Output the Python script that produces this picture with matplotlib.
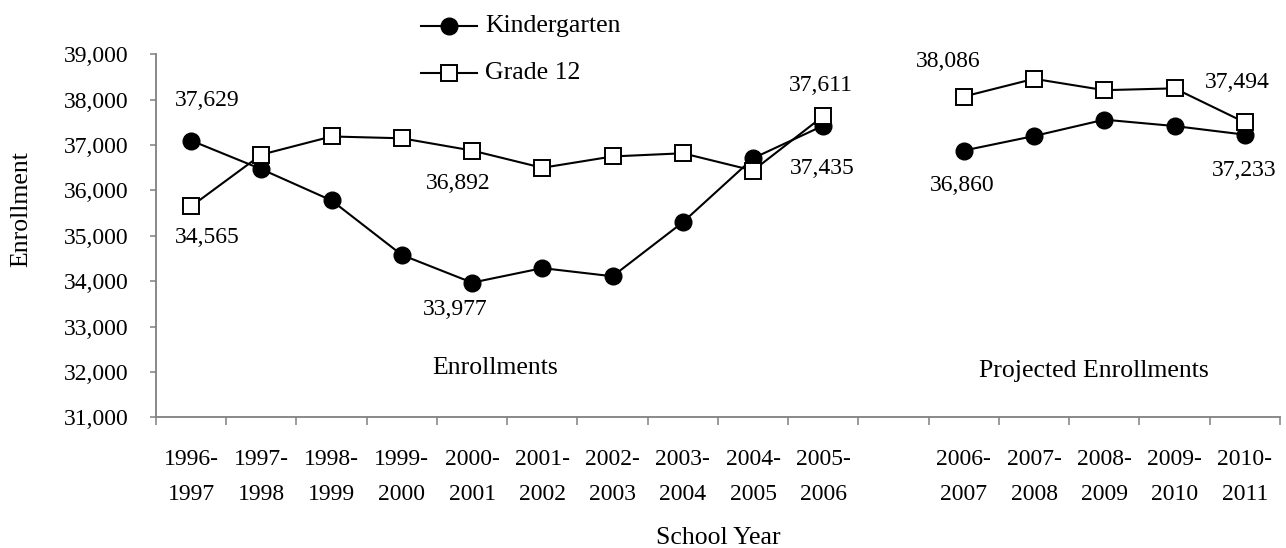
import numpy as np
import matplotlib
matplotlib.use("Agg")
import matplotlib.pyplot as plt
from matplotlib.lines import Line2D
from matplotlib.ticker import FuncFormatter

plt.rcParams["font.family"] = ["Liberation Serif", "DejaVu Serif"]

years = ["1996-\n1997", "1997-\n1998", "1998-\n1999", "1999-\n2000", "2000-\n2001",
         "2001-\n2002", "2002-\n2003", "2003-\n2004", "2004-\n2005", "2005-\n2006",
         "", "2006-\n2007", "2007-\n2008", "2008-\n2009", "2009-\n2010", "2010-\n2011"]

kindergarten = [37100, 36470, 35780, 34580, 33970, 34290, 34110, 35300, 36710, 37430,
                np.nan, 36880, 37200, 37560, 37420, 37230]
grade12 = [35650, 36790, 37190, 37150, 36880, 36500, 36750, 36820, 36440, 37640,
           np.nan, 38070, 38460, 38210, 38250, 37500]

# data labels as printed on the chart: slot, series, text
point_labels = [
    (0, "k", "37,629"),
    (0, "g", "34,565"),
    (4, "g", "36,892"),
    (4, "k", "33,977"),
    (9, "g", "37,611"),
    (9, "k", "37,435"),
    (11, "g", "38,086"),
    (11, "k", "36,860"),
    (15, "g", "37,494"),
    (15, "k", "37,233"),
]
# label offsets from their point, in pixels
label_offset = {"37,629": (16, 40), "34,565": (16, -31), "36,892": (-14, -33),
                "33,977": (-17, -27), "37,611": (-2, 31), "37,435": (-1, -43),
                "38,086": (-16, 35), "36,860": (-2, -35), "37,494": (-8, 40),
                "37,233": (-1, -36)}

NUM_FS = 17
WORD_FS = 18.5
GRAY = "#808080"

fig = plt.figure(figsize=(12.86, 5.48), dpi=100)
ax = fig.add_axes([0.1213, 0.2382, 0.874, 0.6627])

x = np.arange(len(years)) + 0.5
k_style = dict(color="black", lw=1.5, marker="o", ms=12, mfc="black", mec="black")
g_style = dict(color="black", lw=1.5, marker="s", ms=11.5, mfc="white", mec="black", mew=1.4)
ax.plot(x, kindergarten, zorder=3, **k_style)
ax.plot(x, grade12, zorder=4, **g_style)

series = {"k": kindergarten, "g": grade12}
for slot, s, text in point_labels:
    ax.annotate(text, (x[slot], series[s][slot]), xytext=label_offset[text],
                textcoords="offset pixels", ha="center", va="center", fontsize=NUM_FS)

ax.text(4.83, 32080, "Enrollments", ha="center", va="center", fontsize=WORD_FS)
ax.text(13.35, 32020, "Projected Enrollments", ha="center", va="center", fontsize=WORD_FS)

ax.set_xlim(0, 16)
ax.set_ylim(31000, 39000)
ax.set_yticks(np.arange(31000, 39001, 1000))
ax.yaxis.set_major_formatter(FuncFormatter(lambda v, p: f"{int(v):,}"))

ax.set_xticks(np.arange(0, 17))
ax.set_xticklabels([])
ax.set_xticks(x, minor=True)
ax.set_xticklabels(years, minor=True)
for t in ax.get_xticklabels(minor=True):
    t.set_linespacing(1.85)
ax.tick_params(axis="x", which="major", length=6, width=1.1, color=GRAY, direction="out")
ax.tick_params(axis="x", which="minor", length=0, pad=23, labelsize=NUM_FS)
ax.tick_params(axis="y", length=4.5, width=1.1, color=GRAY, labelsize=NUM_FS, pad=15)

for s in ["top", "right"]:
    ax.spines[s].set_visible(False)
for s in ["left", "bottom"]:
    ax.spines[s].set_color(GRAY)
    ax.spines[s].set_linewidth(1.3)

fig.text(21.7 / 1286, 1 - 209 / 548, "Enrollment", rotation=90, ha="center", va="center",
         fontsize=WORD_FS)
fig.text(718 / 1286, 1 - 538 / 548, "School Year", ha="center", va="center", fontsize=WORD_FS)

# legend drawn by hand above the plot
W, H = 1286, 548
for (ypix, style, name) in [(26, k_style, "Kindergarten"), (73, g_style, "Grade 12")]:
    yf = 1 - ypix / H
    line_style = {k: v for k, v in style.items() if k in ("color", "lw")}
    fig.add_artist(Line2D([421 / W, 477 / W], [yf, yf], transform=fig.transFigure, **line_style))
    mk = dict(style)
    mk["lw"] = 0
    fig.add_artist(Line2D([449 / W], [yf], transform=fig.transFigure, **mk))
    fig.text(485 / W, yf, name, ha="left", va="center", fontsize=WORD_FS)

fig.savefig("out.png", dpi=100)
